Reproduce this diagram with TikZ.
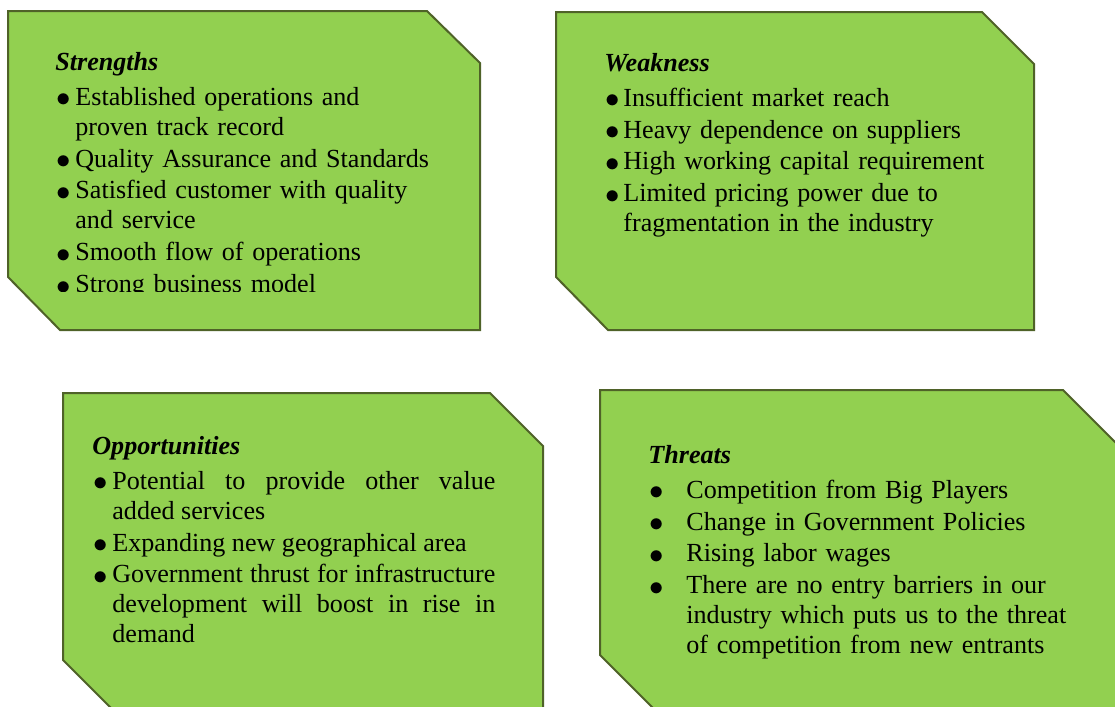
\documentclass[tikz,border=0pt]{standalone}
\usepackage{graphicx}
\usepackage{fontspec}
\setmainfont{Liberation Serif}
\definecolor{swotgreen}{HTML}{92D050}
\definecolor{swotedge}{HTML}{4F6228}
\newcommand{\swotdot}{\raisebox{-0.06em}{\scalebox{1.2}{$\bullet$}}}
\newcommand{\swotitem}[2]{\par\vspace{0.9pt}\hangindent=#1\hangafter=1\noindent\makebox[#1][l]{\hspace{0.3pt}\swotdot}#2\par}
\tikzset{
  swotbox/.style={fill=swotgreen,draw=swotedge,line width=1pt},
  swottext/.style={anchor=north west,inner sep=0pt,text width=#1,
    font=\fontsize{13.05}{15}\selectfont},
  swottext/.default=230pt
}
\begin{document}
\begin{tikzpicture}[x=0.5pt,y=-0.5pt]
		\clip (0,0) rectangle (1115,707);
		\fill[white] (0,0) rectangle (1115,707);
		% the four boxes
		\draw[swotbox] (8,11) -- (427,11) -- (480,63) -- (480,330) -- (60,330) -- (8,277) -- cycle;
		\draw[swotbox] (556,12) -- (982,12) -- (1034,64) -- (1034,330) -- (608,330) -- (556,277) -- cycle;
		\draw[swotbox] (63,393) -- (490,393) -- (543,446) -- (543,720) -- (123,720) -- (63,660) -- cycle;
		\draw[swotbox] (600,390) -- (1063,390) -- (1125,452) -- (1125,720) -- (665,720) -- (600,655) -- cycle;
		% texts
		\begin{scope}
			\clip (0,0) rectangle (480,291);
			\node[swottext,align=left] (strengths) at (55,52) {\textbf{\textit{Strengths}}\par\vspace{1.5pt}
				\swotitem{10pt}{Established operations and\newline proven track record}
				\swotitem{10pt}{Quality Assurance and Standards}
				\swotitem{10pt}{Satisfied customer with quality\newline and service}
				\swotitem{10pt}{Smooth flow of operations}
				\swotitem{10pt}{Strong business model}};
		\end{scope}
		\node[swottext,align=left] (weakness) at (604,53) {\textbf{\textit{Weakness}}\par\vspace{1.5pt}
			\swotitem{9.5pt}{Insufficient market reach}
			\swotitem{9.5pt}{Heavy dependence on suppliers}
			\swotitem{9.5pt}{High working capital requirement}
			\swotitem{9.5pt}{Limited pricing power due to\newline fragmentation in the industry}};
		\node[swottext=201.5pt,align=justify] (opportunities) at (92,436) {\textbf{\textit{Opportunities}}\par\vspace{1.5pt}
			\swotitem{10pt}{Potential to provide other value\linebreak added services}
			\swotitem{10pt}{Expanding new geographical area}
			\swotitem{10pt}{Government thrust for infrastructure\linebreak development will boost in rise in\linebreak demand}};
		\node[swottext,align=left] (threats) at (648,445) {\textbf{\textit{Threats}}\par\vspace{1.5pt}
			\swotitem{19pt}{Competition from Big Players}
			\swotitem{19pt}{Change in Government Policies}
			\swotitem{19pt}{Rising labor wages}
			\swotitem{19pt}{There are no entry barriers in our\newline industry which puts us to the threat\newline of competition from new entrants}};
	\end{tikzpicture}
\end{document}
